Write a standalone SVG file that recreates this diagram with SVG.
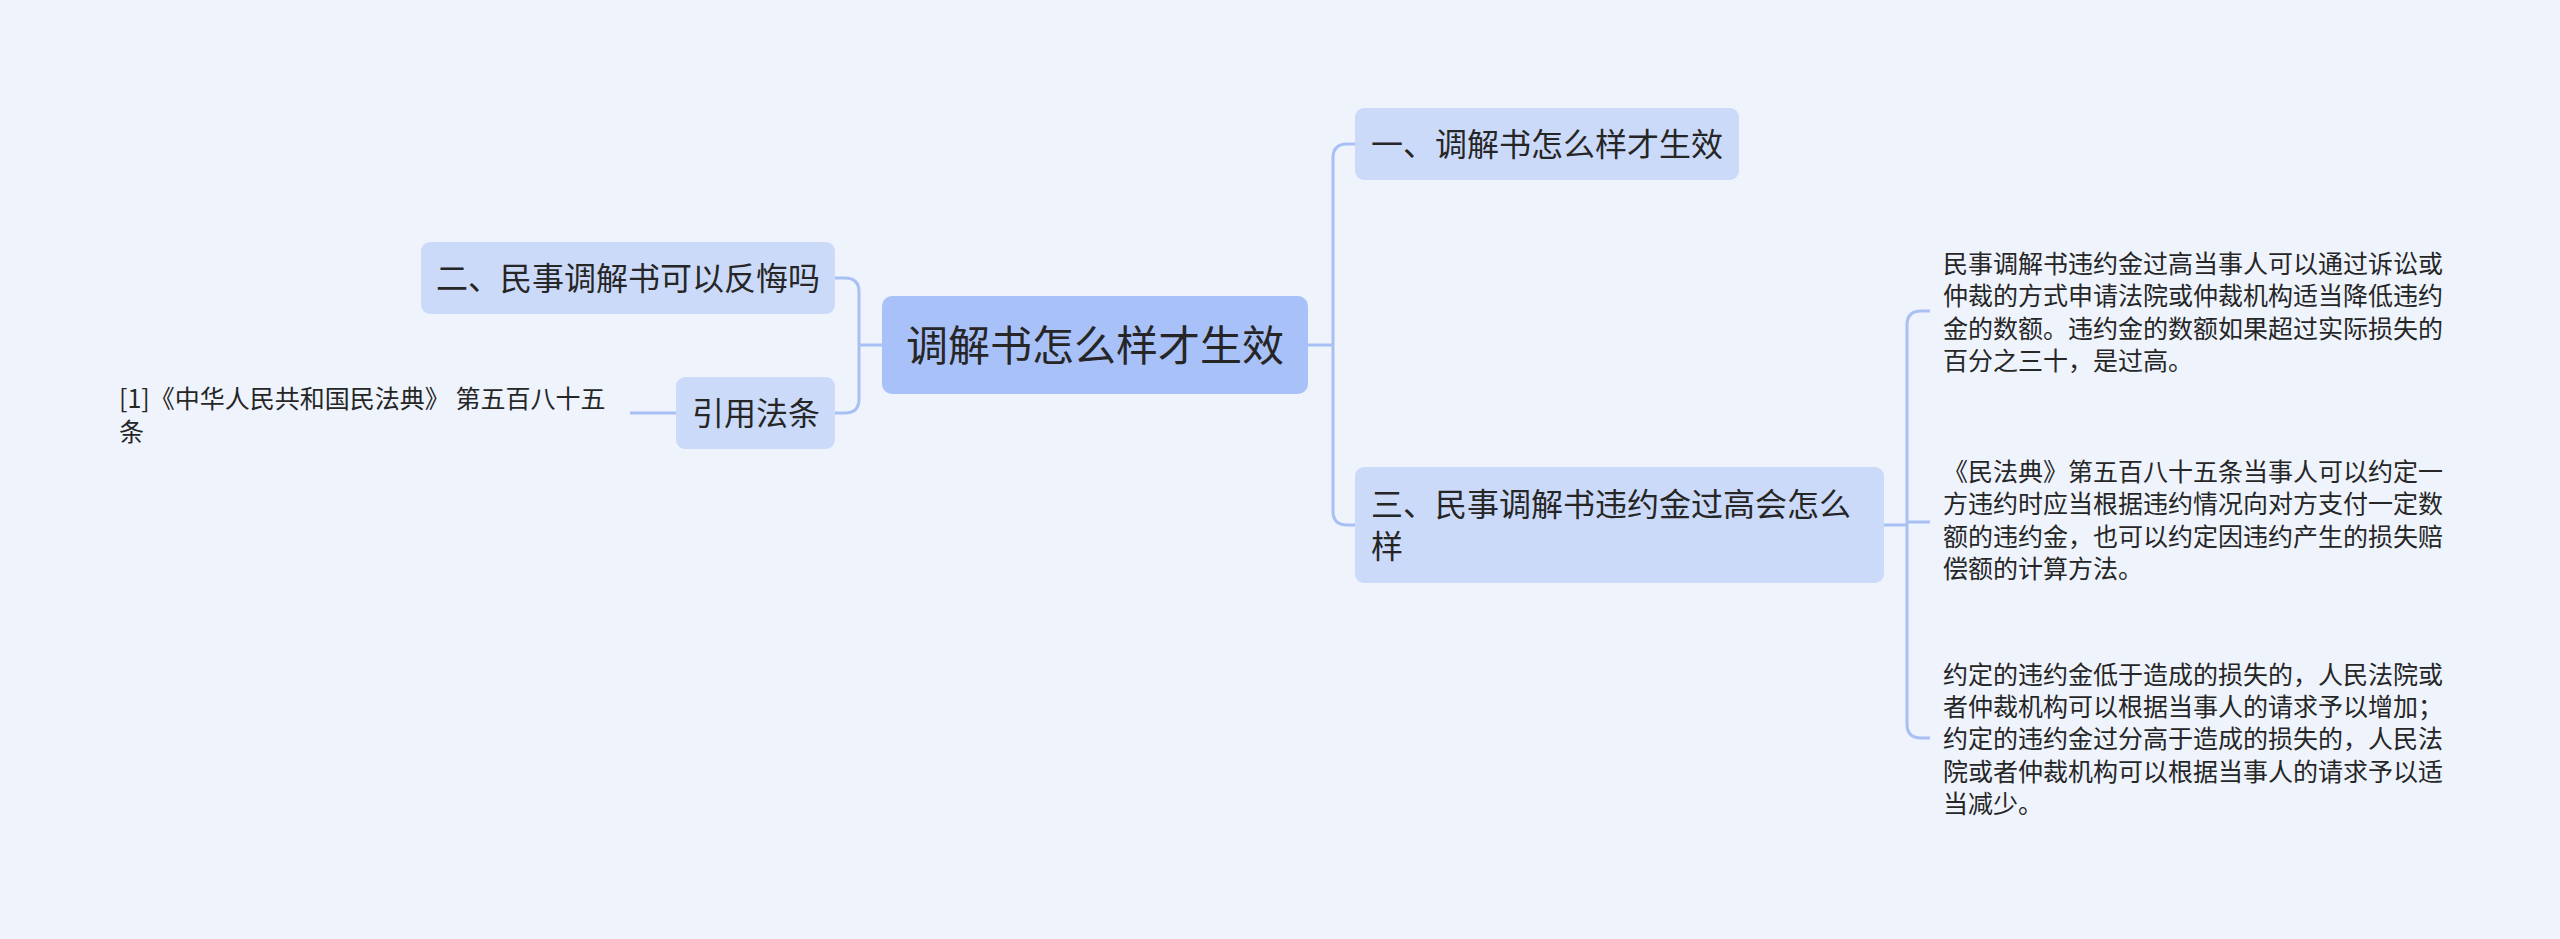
<svg xmlns="http://www.w3.org/2000/svg" width="2560" height="939" viewBox="0 0 2560 939">
<style>
text{font-family:"Noto Sans CJK SC","Noto Sans",sans-serif;fill:#262626}
.l1{font-size:32px}
.rt{font-size:25px}
.box{fill:#ccdafa}
.c{fill:none;stroke:#a9c0f4;stroke-width:3}
</style>
<rect width="2560" height="939" fill="#eef3fc"/>
<g id="connectors">
<path class="c" d="M1308,345 H1333"/>
<path class="c" d="M1355,144 H1347 Q1333,144 1333,158 V511 Q1333,525 1347,525 H1355"/>
<path class="c" d="M1884,525 H1907"/>
<path class="c" d="M1930,311 H1921 Q1907,311 1907,325 V724 Q1907,738 1921,738 H1930"/>
<path class="c" d="M1907,522 H1930"/>
<path class="c" d="M882,345 H859"/>
<path class="c" d="M835,278 H845 Q859,278 859,292 V399 Q859,413 845,413 H835"/>
<path class="c" d="M676,413 H630"/>
</g>
<g id="root">
<rect x="882" y="296" width="426" height="98" rx="10" fill="#a9c1f9"/>
<text x="1095" y="361" font-size="42" text-anchor="middle">调解书怎么样才生效</text>
</g>
<g id="n1">
<rect class="box" x="1355" y="108" width="384" height="72" rx="9"/>
<text class="l1" x="1371" y="156">一、调解书怎么样才生效</text>
</g>
<g id="n3">
<rect class="box" x="1355" y="467" width="529" height="116" rx="9"/>
<text class="l1" x="1371" y="516">三、民事调解书违约金过高会怎么</text>
<text class="l1" x="1371" y="558">样</text>
</g>
<g id="n2">
<rect class="box" x="421" y="242" width="414" height="72" rx="9"/>
<text class="l1" x="436" y="290">二、民事调解书可以反悔吗</text>
</g>
<g id="ref">
<rect class="box" x="676" y="377" width="159" height="72" rx="9"/>
<text class="l1" x="692" y="425">引用法条</text>
</g>
<g id="ref-text">
<text class="rt" x="119" y="407.5">[1]《中华人民共和国民法典》 第五百八十五</text>
<text class="rt" x="119" y="440.5">条</text>
</g>
<g id="t1">
<text class="rt" x="1943" y="272.5">民事调解书违约金过高当事人可以通过诉讼或</text>
<text class="rt" x="1943" y="305">仲裁的方式申请法院或仲裁机构适当降低违约</text>
<text class="rt" x="1943" y="337.5">金的数额。违约金的数额如果超过实际损失的</text>
<text class="rt" x="1943" y="370">百分之三十，是过高。</text>
</g>
<g id="t2">
<text class="rt" x="1943" y="480.5">《民法典》第五百八十五条当事人可以约定一</text>
<text class="rt" x="1943" y="513">方违约时应当根据违约情况向对方支付一定数</text>
<text class="rt" x="1943" y="545.5">额的违约金，也可以约定因违约产生的损失赔</text>
<text class="rt" x="1943" y="578">偿额的计算方法。</text>
</g>
<g id="t3">
<text class="rt" x="1943" y="683.5">约定的违约金低于造成的损失的，人民法院或</text>
<text class="rt" x="1943" y="716">者仲裁机构可以根据当事人的请求予以增加；</text>
<text class="rt" x="1943" y="748">约定的违约金过分高于造成的损失的，人民法</text>
<text class="rt" x="1943" y="780.5">院或者仲裁机构可以根据当事人的请求予以适</text>
<text class="rt" x="1943" y="813">当减少。</text>
</g>
</svg>
